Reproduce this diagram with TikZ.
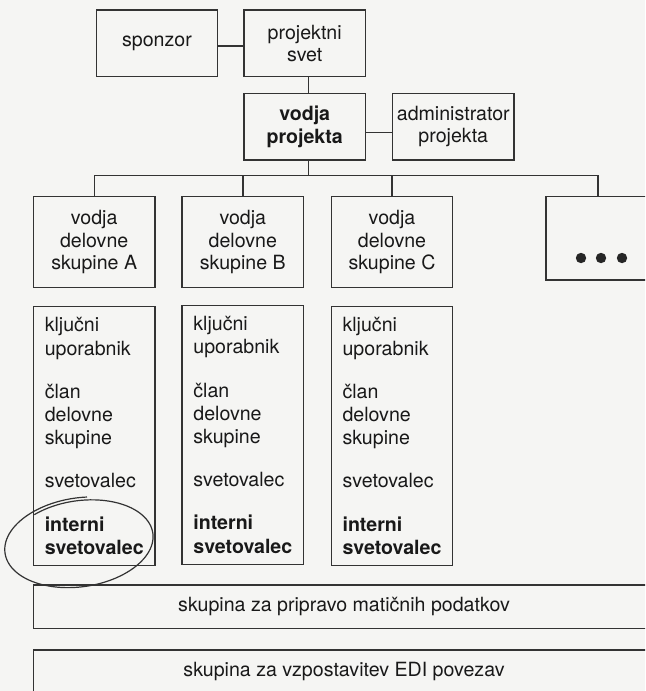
\documentclass[tikz,border=0pt]{standalone}
\usepackage{fontspec}
\setmainfont{TeX Gyre Heros}
\usetikzlibrary{arrows.meta}
\definecolor{ink}{HTML}{333333}
\definecolor{paper}{HTML}{F5F5F3}
\tikzset{
  orgbox/.style={draw=ink, line width=0.7pt, text=black!90, align=center,
    minimum width=60.75pt, minimum height=33.35pt, inner sep=2pt,
    font=\fontsize{9.8pt}{11.25pt}\selectfont},
  grpbox/.style={orgbox, minimum height=45.3pt},
  colbox/.style={orgbox, align=left, minimum height=129.5pt,
    font=\fontsize{9.8pt}{11.6pt}\selectfont},
  bandbox/.style={orgbox, minimum width=310.7pt, minimum height=21.65pt},
  link/.style={draw=ink, line width=0.7pt}
}

\begin{document}
\begin{tikzpicture}[x=0.5pt,y=-0.5pt]
\useasboundingbox (0,0) rectangle (645,691);
\clip (0,0) rectangle (645,691);
\fill[paper] (0,0) rectangle (645,691);

% vodstvo
\node[orgbox] (sponzor) at (157,43.3) {sponzor};
\node[orgbox] (svet) at (304.7,43.3) {projektni\\svet};
\node[orgbox] (vodja) at (304.7,126.7) {\textbf{vodja}\\\textbf{projekta}};
\node[orgbox] (admin) at (453.3,126.7) {administrator\\projekta};

\draw[link] ([yshift=-1.3pt]sponzor.east) -- ([yshift=-1.3pt]svet.west);
\draw[link] ([xshift=1.8pt]svet.south) -- ([xshift=1.8pt]vodja.north);
\draw[link] ([yshift=-2.8pt]vodja.east) -- ([yshift=-2.8pt]admin.west);

% delovne skupine
\node[grpbox] (grpA) at (94.2,242) {vodja\\delovne\\skupine A};
\node[grpbox] (grpB) at (242.8,242) {vodja\\delovne\\skupine B};
\node[grpbox] (grpC) at (392,242) {vodja\\delovne\\skupine C};
\node[grpbox, minimum width=55pt, minimum height=41.65pt] (grpD) at (601,238.3) {};
\foreach \x in {581,601,622}
  \fill[black!85] (\x,258) circle[radius=2.6pt];

\coordinate (bus) at (308.3,175.7);
\draw[link] ([xshift=1.8pt]vodja.south) -- (bus);
\foreach \g in {grpA,grpB,grpC}
  \draw[link] (bus) -| (\g.north);
\draw[link] (bus) -| ([xshift=-1.5pt]grpD.north);

% clani skupin
\node[colbox] (colA) at (94.2,436) {ključni\\uporabnik\\[10pt]član\\delovne\\skupine\\[10pt]svetovalec\\[10pt]\textbf{interni}\\\textbf{svetovalec}};
\node[colbox] (colB) at (242.8,434.8) {ključni\\uporabnik\\[10pt]član\\delovne\\skupine\\[10pt]svetovalec\\[10pt]\textbf{interni}\\\textbf{svetovalec}};
\node[colbox] (colC) at (392,436) {ključni\\uporabnik\\[10pt]član\\delovne\\skupine\\[10pt]svetovalec\\[10pt]\textbf{interni}\\\textbf{svetovalec}};

% rocno obkrozeno
\draw[black!80, line width=0.6pt, rotate around={8:(80,543)}]
  plot[domain=235:640, samples=120, smooth]
  ({80+(72+0.012*(\x-235))*cos(\x)}, {543+(42+0.008*(\x-235))*sin(\x)});

% skupine za podatke
\node[bandbox] (pripravo) at (344,606.7) {skupina za pripravo matičnih podatkov};
\node[bandbox] (edi) at (344,671.7) {skupina za vzpostavitev EDI povezav};
\end{tikzpicture}
\end{document}
